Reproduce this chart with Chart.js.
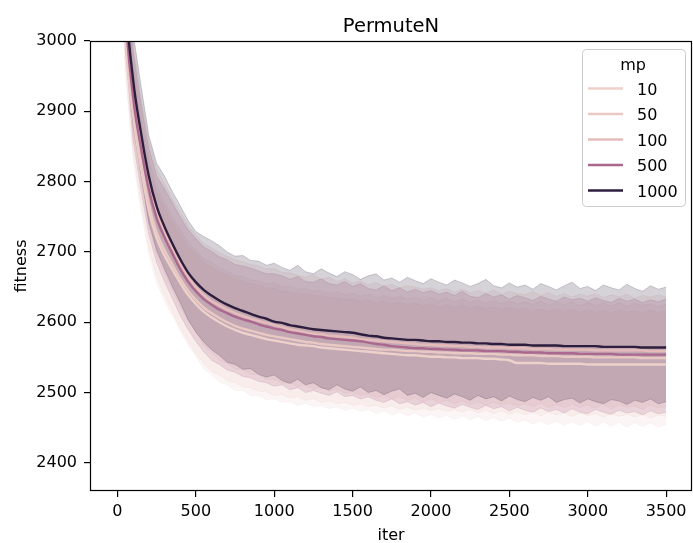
<!DOCTYPE html>
<html><head><meta charset="utf-8">
<script src="https://cdn.jsdelivr.net/npm/chart.js@4.4.1/dist/chart.umd.min.js"></script>
<style>html,body{margin:0;padding:0;background:#fff;overflow:hidden}canvas{display:block}</style>
</head><body>
<canvas id="c" width="693" height="543"></canvas>
<script>
const TITLE = 'PermuteN';
const X_LABEL = 'iter';
const Y_LABEL = 'fitness';
const LEGEND_TITLE = 'mp';
const MP_LEVELS = ['10', '50', '100', '500', '1000'];
const X_TICKS = [0, 500, 1000, 1500, 2000, 2500, 3000, 3500];
const Y_TICKS = [2400, 2500, 2600, 2700, 2800, 2900, 3000];

const ITERS = [0,50,100,150,200,250,300,350,400,450,500,550,600,650,700,750,800,850,900,950,
1000,1050,1100,1150,1200,1250,1300,1350,1400,1450,1500,1550,1600,1650,1700,1750,1800,1850,1900,1950,
2000,2050,2100,2150,2200,2250,2300,2350,2400,2450,2500,2550,2600,2650,2700,2750,2800,2850,2900,2950,
3000,3050,3100,3150,3200,3250,3300,3350,3400,3450,3500];

// mean fitness per mp level
const MEAN_10 = [3340,3020,2895,2820,2760,2720,2695,2675,2656,2639,
2626,2615,2607,2600,2594,2589,2585,2582,2579,2576,
2574,2572,2570,2568,2567,2566,2564,2563,2562,2561,
2560,2559,2558,2557,2556,2555,2554,2553,2553,2552,
2551,2551,2550,2550,2549,2549,2549,2548,2548,2547,
2546,2542,2542,2542,2542,2541,2541,2541,2541,2541,
2540,2540,2540,2540,2540,2540,2540,2540,2540,2540,2540];
const MEAN_50 = [3350,3030,2905,2830,2768,2728,2703,2682,2662,2645,
2632,2621,2613,2606,2600,2595,2591,2588,2585,2582,
2580,2578,2576,2574,2572,2571,2569,2568,2567,2566,
2565,2564,2563,2562,2561,2561,2560,2559,2559,2558,
2558,2557,2557,2556,2556,2556,2555,2555,2555,2554,
2554,2553,2553,2553,2552,2552,2552,2551,2551,2551,
2551,2550,2550,2550,2550,2550,2550,2549,2549,2549,2549];
const MEAN_100 = [3370,3055,2932,2860,2800,2757,2729,2705,2683,2665,
2650,2639,2630,2624,2618,2613,2609,2605,2602,2599,
2596,2593,2590,2588,2586,2584,2583,2581,2580,2579,
2578,2576,2575,2574,2573,2572,2571,2570,2569,2568,
2568,2567,2567,2566,2566,2565,2565,2564,2564,2564,
2563,2563,2563,2562,2562,2562,2561,2561,2561,2561,
2561,2560,2560,2560,2560,2560,2560,2560,2559,2559,2559];
const MEAN_500 = [3380,3050,2920,2848,2789,2748,2721,2698,2676,2658,
2644,2633,2625,2618,2613,2608,2604,2601,2597,2594,
2591,2589,2586,2584,2582,2580,2579,2577,2576,2575,
2574,2573,2571,2569,2568,2566,2565,2564,2563,2563,
2562,2562,2561,2561,2560,2560,2560,2559,2559,2559,
2558,2558,2557,2557,2557,2556,2556,2556,2556,2555,
2555,2555,2555,2555,2554,2554,2554,2554,2554,2554,2554];
const MEAN_1000 = [3400,3075,2945,2870,2808,2765,2736,2712,2690,2671,
2657,2646,2638,2631,2625,2620,2616,2612,2608,2605,
2601,2599,2596,2594,2592,2590,2589,2588,2587,2586,
2585,2583,2581,2580,2578,2577,2576,2575,2575,2574,
2573,2573,2572,2572,2571,2571,2570,2570,2569,2569,
2568,2568,2568,2567,2567,2567,2567,2566,2566,2566,
2566,2566,2565,2565,2565,2565,2565,2564,2564,2564,2564];

// upper / lower edges of the error bands
const UPPER_10 = [3415,3090,2962,2886,2824,2785,2763,2742,2724,2707,
2698,2685,2679,2671,2667,2661,2659,2654,2653,2648,
2648,2644,2643,2641,2640,2638,2637,2635,2635,2632,
2633,2630,2631,2628,2630,2626,2628,2625,2627,2623,
2626,2622,2625,2621,2624,2620,2623,2619,2622,2618,
2621,2617,2620,2616,2619,2615,2619,2616,2618,2614,
2618,2614,2617,2613,2618,2614,2616,2613,2617,2614,2616];
const LOWER_10 = [3275,2955,2832,2760,2697,2656,2630,2609,2588,2568,
2552,2534,2526,2515,2511,2503,2503,2496,2496,2490,
2491,2486,2487,2482,2485,2480,2482,2477,2480,2475,
2478,2473,2476,2470,2474,2468,2472,2467,2471,2465,
2469,2464,2468,2462,2467,2461,2466,2460,2465,2459,
2464,2458,2461,2455,2460,2454,2460,2453,2459,2453,
2459,2452,2458,2452,2458,2451,2457,2452,2457,2451,2455];
const UPPER_50 = [3420,3098,2972,2895,2832,2792,2770,2750,2732,2714,
2703,2690,2686,2677,2673,2666,2665,2660,2659,2655,
2656,2650,2651,2647,2648,2644,2645,2641,2643,2639,
2641,2637,2640,2635,2638,2634,2637,2632,2636,2631,
2635,2630,2634,2629,2633,2628,2632,2627,2631,2626,
2630,2626,2629,2625,2630,2624,2628,2625,2629,2623,
2628,2624,2627,2623,2628,2622,2627,2624,2626,2622,2626];
const LOWER_50 = [3285,2966,2842,2770,2706,2665,2638,2615,2592,2573,
2555,2541,2530,2525,2517,2514,2508,2507,2502,2501,
2496,2497,2492,2494,2489,2491,2486,2488,2484,2486,
2482,2484,2480,2482,2478,2481,2476,2479,2475,2478,
2474,2477,2473,2476,2472,2476,2471,2475,2470,2474,
2469,2473,2468,2473,2467,2472,2468,2471,2466,2471,
2467,2470,2465,2470,2466,2469,2465,2469,2464,2468,2466];
const UPPER_100 = [3435,3120,2997,2922,2860,2818,2797,2776,2757,2738,
2724,2712,2706,2699,2694,2689,2686,2682,2680,2676,
2676,2671,2670,2667,2664,2668,2661,2664,2658,2662,
2656,2659,2653,2657,2651,2654,2649,2652,2650,2647,
2649,2645,2648,2643,2647,2642,2645,2641,2646,2640,
2644,2641,2639,2644,2638,2642,2637,2641,2636,2640,
2637,2641,2635,2639,2636,2640,2634,2638,2636,2639,2636];
const LOWER_100 = [3305,2993,2870,2800,2736,2695,2669,2645,2622,2602,
2587,2567,2557,2546,2542,2534,2532,2526,2525,2519,
2519,2513,2514,2509,2510,2505,2507,2502,2504,2499,
2501,2496,2498,2493,2496,2491,2494,2489,2492,2487,
2491,2486,2489,2484,2488,2483,2487,2482,2486,2482,
2485,2481,2484,2480,2485,2479,2483,2478,2484,2479,
2482,2478,2483,2477,2482,2479,2481,2476,2482,2478,2480];
const UPPER_500 = [3445,3115,2986,2912,2848,2808,2790,2770,2750,2732,
2719,2707,2701,2693,2689,2682,2680,2677,2673,2669,
2669,2666,2661,2665,2658,2657,2662,2655,2653,2658,
2651,2655,2648,2646,2652,2645,2649,2643,2647,2642,
2645,2640,2643,2638,2644,2637,2635,2641,2636,2639,
2633,2638,2635,2631,2637,2633,2630,2636,2632,2634,
2630,2635,2631,2628,2634,2630,2633,2628,2632,2629,2633];
const LOWER_500 = [3318,2988,2858,2788,2725,2685,2658,2634,2610,2590,
2573,2558,2546,2540,2532,2529,2523,2521,2516,2514,
2509,2511,2504,2507,2500,2503,2499,2496,2501,2494,
2496,2491,2494,2489,2486,2491,2484,2487,2482,2486,
2480,2485,2481,2478,2483,2479,2476,2482,2477,2480,
2474,2479,2475,2472,2478,2473,2476,2471,2477,2472,
2470,2476,2472,2469,2475,2471,2473,2468,2474,2470,2472];
const UPPER_1000 = [3470,3140,3012,2937,2866,2826,2808,2786,2766,2745,
2729,2722,2716,2709,2700,2694,2695,2688,2687,2681,
2684,2678,2674,2681,2672,2669,2676,2670,2665,2672,
2668,2661,2666,2669,2660,2663,2657,2664,2659,2655,
2662,2657,2653,2660,2656,2651,2655,2661,2652,2649,
2656,2650,2653,2647,2655,2651,2646,2652,2657,2648,
2651,2645,2653,2649,2646,2654,2648,2644,2652,2647,2650];
const LOWER_1000 = [3320,3008,2880,2810,2742,2702,2676,2651,2628,2604,
2586,2572,2561,2553,2543,2540,2533,2534,2526,2522,
2525,2517,2513,2519,2511,2514,2507,2504,2511,2505,
2502,2508,2500,2503,2497,2502,2505,2496,2499,2493,
2500,2496,2492,2498,2494,2489,2496,2491,2494,2488,
2495,2490,2487,2493,2489,2494,2486,2490,2492,2485,
2491,2487,2484,2490,2488,2483,2489,2486,2491,2484,2487];

const MEANS = [MEAN_10, MEAN_50, MEAN_100, MEAN_500, MEAN_1000];
const UPPERS = [UPPER_10, UPPER_50, UPPER_100, UPPER_500, UPPER_1000];
const LOWERS = [LOWER_10, LOWER_50, LOWER_100, LOWER_500, LOWER_1000];
const COLORS = ['237,209,203', '234,200,196', '230,188,187', '171,104,143', '45,30,62'];

const FONT = 'DejaVu Sans';
Chart.defaults.font.family = FONT;

const pts = arr => ITERS.map((x, i) => ({ x: x, y: arr[i] }));

const datasets = [];
MP_LEVELS.forEach((lv, i) => {
  datasets.push({
    label: lv, data: pts(MEANS[i]),
    borderColor: 'rgb(' + COLORS[i] + ')', borderWidth: 2.4,
    borderJoinStyle: 'round', pointRadius: 0, fill: false,
    cubicInterpolationMode: 'monotone',
    order: 5 - i
  });
});
MP_LEVELS.forEach((lv, i) => {
  const c = 'rgba(' + COLORS[i] + ',0.2)';
  datasets.push({
    label: lv + ' upper', data: pts(UPPERS[i]),
    borderColor: c, backgroundColor: c, borderWidth: 1,
    pointRadius: 0, fill: '+1', tension: 0, order: 20 - i
  });
  datasets.push({
    label: lv + ' lower', data: pts(LOWERS[i]),
    borderColor: c, borderWidth: 1,
    pointRadius: 0, fill: false, tension: 0, order: 20 - i
  });
});

const deco = {
  id: 'deco',
  afterDraw(chart) {
    const ctx = chart.ctx, ca = chart.chartArea;
    ctx.save();
    ctx.strokeStyle = '#000'; ctx.lineWidth = 1.2;
    ctx.strokeRect(ca.left + 0.5, ca.top + 0.5, ca.right - ca.left - 1, ca.bottom - ca.top - 1);
    ctx.fillStyle = '#000';
    ctx.font = '19.5px "' + FONT + '"';
    ctx.textAlign = 'center'; ctx.textBaseline = 'alphabetic';
    ctx.fillText(TITLE, (ca.left + ca.right) / 2, 31.5);
    ctx.font = '16px "' + FONT + '"';
    ctx.fillText(X_LABEL, (ca.left + ca.right) / 2, 539.5);
    ctx.save();
    ctx.translate(26, (ca.top + ca.bottom) / 2);
    ctx.rotate(-Math.PI / 2);
    ctx.fillText(Y_LABEL, 0, 0);
    ctx.restore();
    const lx = 582.5, ly = 49.5, lw = 103, lh = 157, r = 4;
    ctx.beginPath();
    ctx.moveTo(lx + r, ly); ctx.lineTo(lx + lw - r, ly); ctx.quadraticCurveTo(lx + lw, ly, lx + lw, ly + r);
    ctx.lineTo(lx + lw, ly + lh - r); ctx.quadraticCurveTo(lx + lw, ly + lh, lx + lw - r, ly + lh);
    ctx.lineTo(lx + r, ly + lh); ctx.quadraticCurveTo(lx, ly + lh, lx, ly + lh - r);
    ctx.lineTo(lx, ly + r); ctx.quadraticCurveTo(lx, ly, lx + r, ly);
    ctx.closePath();
    ctx.fillStyle = 'rgba(255,255,255,0.8)'; ctx.fill();
    ctx.strokeStyle = '#cccccc'; ctx.lineWidth = 1; ctx.stroke();
    ctx.fillStyle = '#000'; ctx.textAlign = 'center';
    ctx.fillText(LEGEND_TITLE, 633, 70);
    ctx.textAlign = 'left';
    MP_LEVELS.forEach((lv, i) => {
      const y = 88.5 + i * 25.5;
      ctx.strokeStyle = 'rgb(' + COLORS[i] + ')'; ctx.lineWidth = 2.4;
      ctx.beginPath(); ctx.moveTo(588, y); ctx.lineTo(623, y); ctx.stroke();
      ctx.fillStyle = '#000';
      ctx.fillText(lv, 637, y + 6);
    });
    ctx.restore();
  }
};

new Chart(document.getElementById('c'), {
  type: 'line',
  data: { datasets: datasets },
  options: {
    responsive: false, animation: false, devicePixelRatio: 1,
    layout: { padding: { top: 41, right: 1, left: 0, bottom: 0 } },
    plugins: { legend: { display: false }, tooltip: { enabled: false }, title: { display: false } },
    scales: {
      x: {
        type: 'linear', min: -175, max: 3665,
        afterBuildTicks: s => { s.ticks = X_TICKS.map(v => ({ value: v })); },
        afterFit: s => { s.height = 52; },
        border: { display: false },
        grid: { drawOnChartArea: false, drawTicks: true, tickLength: 6, color: '#000', lineWidth: 1.2 },
        ticks: { color: '#000', font: { size: 16 }, padding: 5, maxRotation: 0, autoSkip: false, callback: v => String(v) }
      },
      y: {
        type: 'linear', min: 2360, max: 3000,
        afterBuildTicks: s => { s.ticks = Y_TICKS.map(v => ({ value: v })); },
        afterFit: s => { s.width = 90; },
        border: { display: false },
        grid: { drawOnChartArea: false, drawTicks: true, tickLength: 6, color: '#000', lineWidth: 1.2 },
        ticks: { color: '#000', font: { size: 16 }, padding: 7, autoSkip: false, callback: v => String(v) }
      }
    }
  },
  plugins: [deco]
});
</script>
</body></html>
